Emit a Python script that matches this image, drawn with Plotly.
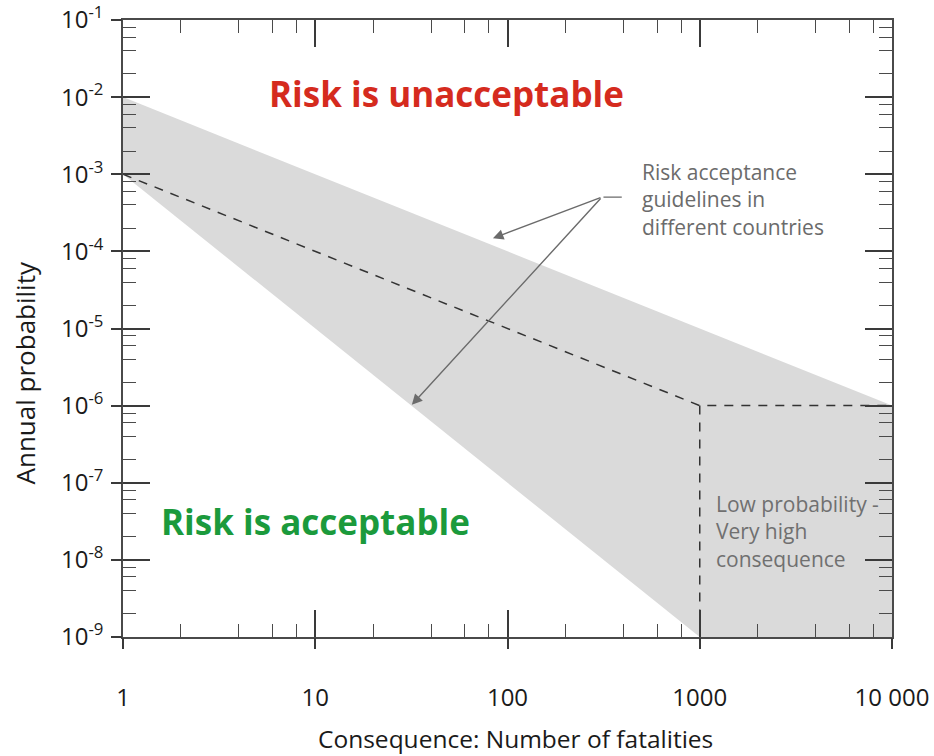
import math
import plotly.graph_objects as go

# ---------------- data ----------------
band_fatalities = [1, 10000, 10000, 1000, 1]
band_probability = [1e-2, 1e-6, 1e-9, 1e-9, 1e-3]

guideline_fatalities = [1, 1000, 10000]
guideline_probability = [1e-3, 1e-6, 1e-6]

cutoff_fatalities = [1000, 1000]
cutoff_probability = [1e-6, 1e-9]

x_tick_values = [1, 10, 100, 1000, 10000]
x_tick_labels = ["1", "10", "100", "1000", "10 000"]
y_exponents = [-1, -2, -3, -4, -5, -6, -7, -8, -9]
minor_multipliers = [2, 4, 6, 8]

y_tick_values = [10.0 ** e for e in y_exponents]
y_tick_labels = ["10<sup>%d</sup>" % e for e in y_exponents]
x_minor = [m * v for v in x_tick_values[:-1] for m in minor_multipliers]
y_minor = [m * v for v in sorted(y_tick_values)[:-1] for m in minor_multipliers]

FONT = "Open Sans"
AX = "#4a4a4a"
GREY_TXT = "#6b6b6b"

fig = go.Figure()
fig.add_trace(go.Scatter(x=band_fatalities, y=band_probability, fill="toself",
                         fillcolor="#dadada", line=dict(width=0), mode="lines",
                         hoverinfo="skip", showlegend=False))
fig.add_trace(go.Scatter(x=guideline_fatalities, y=guideline_probability, mode="lines",
                         line=dict(color="#333333", width=1.5, dash="9px,8px"),
                         showlegend=False))
fig.add_trace(go.Scatter(x=cutoff_fatalities, y=cutoff_probability, mode="lines",
                         line=dict(color="#333333", width=1.5, dash="9px,8px"),
                         showlegend=False))
# invisible trace on the overlay axes (outer tick stubs)
fig.add_trace(go.Scatter(x=[1], y=[1e-9], xaxis="x2", yaxis="y2", mode="markers",
                         marker=dict(opacity=0), hoverinfo="skip", showlegend=False))

common = dict(type="log", showgrid=False, zeroline=False, automargin=False)
fig.update_layout(
    width=934, height=756,
    margin=dict(l=123, r=42, t=20, b=119, autoexpand=False),
    paper_bgcolor="white", plot_bgcolor="white",
    font=dict(family=FONT, color="#1a1a1a"),
    xaxis=dict(**common, range=[0, 4], showline=True, linecolor=AX, linewidth=1.5,
               mirror="allticks", ticks="inside", ticklen=27, tickwidth=1.6, tickcolor="#3a3a3a",
               tickmode="array", tickvals=x_tick_values, ticktext=x_tick_labels,
               tickfont=dict(size=24, family=FONT, color="#1a1a1a"),
               ticklabelstandoff=38,
               minor=dict(tickmode="array", tickvals=x_minor, ticks="inside", ticklen=13,
                          tickwidth=1.3, tickcolor=AX, showgrid=False)),
    yaxis=dict(**common, range=[-9, -1], showline=True, linecolor=AX, linewidth=1.5,
               mirror="allticks", ticks="inside", ticklen=27, tickwidth=1.6, tickcolor="#3a3a3a",
               tickmode="array", tickvals=y_tick_values, ticktext=y_tick_labels,
               tickfont=dict(size=24, family=FONT, color="#1a1a1a"),
               ticklabelstandoff=13,
               minor=dict(tickmode="array", tickvals=y_minor, ticks="inside", ticklen=13,
                          tickwidth=1.3, tickcolor=AX, showgrid=False)),
    xaxis2=dict(**common, range=[0, 4], overlaying="x", anchor="y", side="bottom",
                ticks="outside", ticklen=11, tickwidth=1.6, tickcolor="#3a3a3a",
                tickmode="array", tickvals=x_tick_values, showticklabels=False, showline=False),
    yaxis2=dict(**common, range=[-9, -1], overlaying="y", anchor="x", side="left",
                ticks="outside", ticklen=11, tickwidth=1.6, tickcolor="#3a3a3a",
                tickmode="array", tickvals=y_tick_values, showticklabels=False, showline=False),
)

L = math.log10
annotations = [
    dict(text="<b>Risk is unacceptable</b>", x=L(48), y=-1.95, xref="x", yref="y",
         showarrow=False, font=dict(size=35, color="#d52b1e", family=FONT)),
    dict(text="<b>Risk is acceptable</b>", x=L(10), y=-7.5, xref="x", yref="y",
         showarrow=False, font=dict(size=35, color="#1b9a3c", family=FONT)),
    dict(text="Risk acceptance<br>guidelines in<br>different countries",
         x=L(490), y=-3.33, xref="x", yref="y", xanchor="left", align="left",
         showarrow=False, font=dict(size=21, color=GREY_TXT, family=FONT)),
    dict(text="Low probability -<br>Very high<br>consequence",
         x=L(1185), y=-7.63, xref="x", yref="y", xanchor="left", align="left",
         showarrow=False, font=dict(size=21, color="#707070", family=FONT)),
    # arrows
    dict(text="", x=L(84), y=-3.83, ax=L(310), ay=-3.296, xref="x", yref="y",
         axref="x", ayref="y", showarrow=True, arrowhead=2, arrowsize=1.5,
         arrowwidth=1.4, arrowcolor="#6b6b6b", standoff=0, startstandoff=0),
    dict(text="", x=L(31.8), y=-5.99, ax=L(310), ay=-3.296, xref="x", yref="y",
         axref="x", ayref="y", showarrow=True, arrowhead=2, arrowsize=1.5,
         arrowwidth=1.4, arrowcolor="#6b6b6b", standoff=0, startstandoff=0),
    dict(text="", x=L(393), y=-3.296, ax=L(310), ay=-3.296, xref="x", yref="y",
         axref="x", ayref="y", showarrow=True, arrowhead=0,
         arrowwidth=1.4, arrowcolor="#6b6b6b", standoff=0, startstandoff=0),
    # axis titles
    dict(text="Consequence: Number of fatalities", x=0.511, y=-0.164,
         xref="paper", yref="paper", xanchor="center", yanchor="middle",
         showarrow=False, font=dict(size=24.5, color="#1a1a1a", family=FONT)),
    dict(text="Annual probability", x=-0.128, y=0.428, textangle=-90,
         xref="paper", yref="paper", xanchor="center", yanchor="middle",
         showarrow=False, font=dict(size=26, color="#1a1a1a", family=FONT)),
]
fig.update_layout(annotations=annotations)

fig.write_html("out.html", config={"displayModeBar": False},
               post_script="document.body.style.margin='0';document.body.style.overflow='hidden';")
